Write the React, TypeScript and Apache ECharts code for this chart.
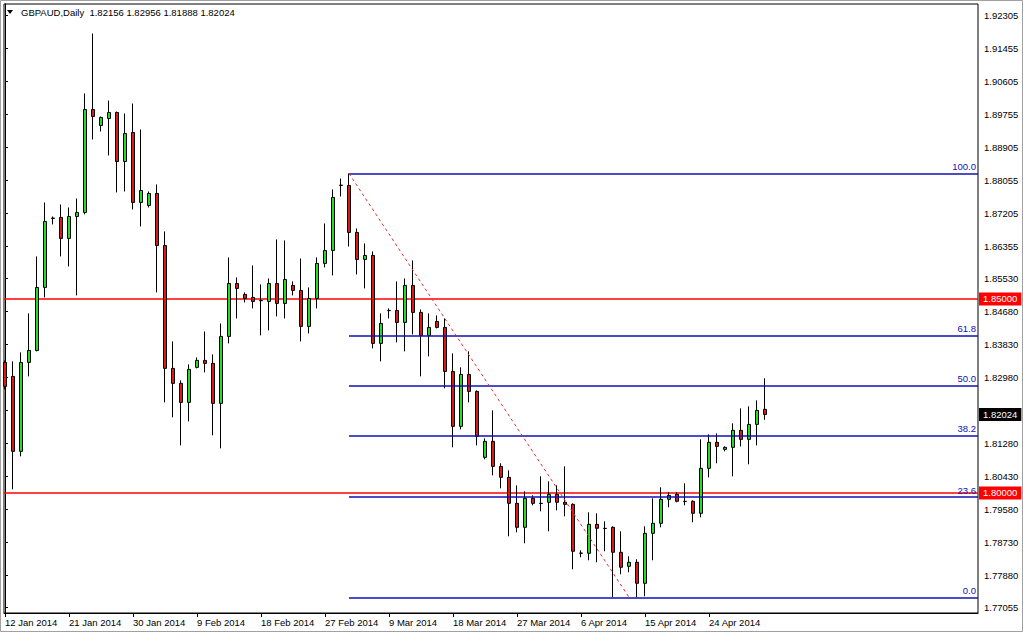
import React, { useEffect, useRef } from "react";
import * as echarts from "echarts";

const dates = [
  "12 Jan 2014","13 Jan 2014","14 Jan 2014","15 Jan 2014","16 Jan 2014","17 Jan 2014","19 Jan 2014","20 Jan 2014",
  "21 Jan 2014","22 Jan 2014","23 Jan 2014","24 Jan 2014","26 Jan 2014","27 Jan 2014","28 Jan 2014","29 Jan 2014",
  "30 Jan 2014","31 Jan 2014","2 Feb 2014","3 Feb 2014","4 Feb 2014","5 Feb 2014","6 Feb 2014","7 Feb 2014",
  "9 Feb 2014","10 Feb 2014","11 Feb 2014","12 Feb 2014","13 Feb 2014","14 Feb 2014","16 Feb 2014","17 Feb 2014",
  "18 Feb 2014","19 Feb 2014","20 Feb 2014","21 Feb 2014","23 Feb 2014","24 Feb 2014","25 Feb 2014","26 Feb 2014",
  "27 Feb 2014","28 Feb 2014","2 Mar 2014","3 Mar 2014","4 Mar 2014","5 Mar 2014","6 Mar 2014","7 Mar 2014",
  "9 Mar 2014","10 Mar 2014","11 Mar 2014","12 Mar 2014","13 Mar 2014","14 Mar 2014","16 Mar 2014","17 Mar 2014",
  "18 Mar 2014","19 Mar 2014","20 Mar 2014","21 Mar 2014","23 Mar 2014","24 Mar 2014","25 Mar 2014","26 Mar 2014",
  "27 Mar 2014","28 Mar 2014","30 Mar 2014","31 Mar 2014","1 Apr 2014","2 Apr 2014","3 Apr 2014","4 Apr 2014",
  "6 Apr 2014","7 Apr 2014","8 Apr 2014","9 Apr 2014","10 Apr 2014","11 Apr 2014","13 Apr 2014","14 Apr 2014",
  "15 Apr 2014","16 Apr 2014","17 Apr 2014","18 Apr 2014","20 Apr 2014","21 Apr 2014","22 Apr 2014","23 Apr 2014",
  "24 Apr 2014","25 Apr 2014","27 Apr 2014","28 Apr 2014","29 Apr 2014","30 Apr 2014","1 May 2014","2 May 2014",
];

const opens = [
  1.83366,1.83006,1.81074,1.83366,1.83675,1.85298,1.87085,1.87102,1.86561,1.87127,
  1.87230,1.89884,1.89471,1.89652,1.89806,1.88544,1.89291,1.87488,1.87411,1.87720,
  1.86380,1.83212,1.82825,1.82336,1.83238,1.83418,1.83341,1.82310,1.84036,1.85401,
  1.85118,1.85041,1.84963,1.84938,1.85401,1.84886,1.85350,1.85221,1.84294,1.85015,
  1.85917,1.86251,1.87926,1.87926,1.86715,1.86020,1.86123,1.83856,1.84706,1.84706,
  1.84397,1.85350,1.84654,1.84062,1.84422,1.84268,1.83134,1.81718,1.83057,1.82619,
  1.80919,1.81331,1.80687,1.80404,1.79734,1.79116,1.79863,1.79734,1.79760,1.79966,
  1.79760,1.79708,1.78446,1.78446,1.79193,1.79090,1.79116,1.78472,1.78111,1.78214,
  1.77673,1.78961,1.79219,1.79837,1.79966,1.79786,1.79786,1.79477,1.80636,1.81306,
  1.81125,1.81177,1.81615,1.81383,1.81769,1.82156,
];
const closes = [
  1.82748,1.81074,1.83366,1.83675,1.85298,1.86998,1.87076,1.86561,1.87127,1.87230,
  1.89884,1.89703,1.89678,1.89806,1.88544,1.89265,1.87488,1.87797,1.87720,1.86380,
  1.83212,1.82825,1.82336,1.83186,1.83418,1.83341,1.82310,1.84036,1.85401,1.85273,
  1.85015,1.84938,1.84955,1.85401,1.84886,1.85504,1.85221,1.84294,1.85015,1.85917,
  1.86251,1.87617,1.87935,1.86715,1.86020,1.86123,1.83856,1.84371,1.84700,1.84397,
  1.85350,1.84654,1.84062,1.84268,1.84268,1.83134,1.81718,1.83057,1.82619,1.81460,
  1.81331,1.80687,1.80404,1.79734,1.79116,1.79863,1.79734,1.79728,1.79966,1.79760,
  1.79708,1.78498,1.78452,1.79193,1.79090,1.79085,1.78472,1.78086,1.78214,1.77673,
  1.78961,1.79219,1.79837,1.79940,1.79786,1.79780,1.79477,1.80636,1.81306,1.81202,
  1.81177,1.81615,1.81383,1.81769,1.82130,1.82024,
];
const lows = [
  1.82671,1.80095,1.80945,1.83006,1.83650,1.85041,1.86921,1.86097,1.85839,1.85092,
  1.87179,1.89111,1.89317,1.88699,1.87746,1.87771,1.87308,1.86870,1.87359,1.85170,
  1.82336,1.81950,1.81228,1.81846,1.83212,1.83109,1.81486,1.81151,1.83856,1.84500,
  1.84912,1.84757,1.84062,1.84191,1.84551,1.84500,1.85092,1.83907,1.84113,1.84757,
  1.85814,1.85607,1.87642,1.86354,1.85633,1.85273,1.83727,1.83392,1.84500,1.83882,
  1.83650,1.84088,1.83006,1.83521,1.84242,1.82697,1.81177,1.81640,1.82336,1.81228,
  1.80868,1.80455,1.80121,1.78884,1.78987,1.78704,1.79683,1.79528,1.79013,1.79554,
  1.79399,1.78034,1.78343,1.78266,1.78214,1.78498,1.77313,1.77905,1.77957,1.77313,
  1.77338,1.78266,1.79116,1.79631,1.79760,1.79683,1.79245,1.79373,1.80404,1.80765,
  1.81074,1.80430,1.81202,1.80739,1.81228,1.81888,
];
const highs = [
  1.83418,1.83392,1.83624,1.84629,1.86097,1.87488,1.87127,1.87436,1.87359,1.87591,
  1.90296,1.91841,1.89703,1.90115,1.89832,1.89781,1.90038,1.89368,1.87771,1.87952,
  1.86741,1.83907,1.82903,1.83315,1.83495,1.84165,1.83572,1.84371,1.86071,1.85556,
  1.85170,1.85865,1.85376,1.85530,1.86535,1.86509,1.85453,1.86045,1.85298,1.86071,
  1.86947,1.87823,1.88106,1.88235,1.86818,1.86432,1.86226,1.84629,1.84757,1.85453,
  1.85530,1.85994,1.84732,1.84629,1.84577,1.84500,1.83598,1.83238,1.83650,1.82645,
  1.81409,1.82130,1.80765,1.80584,1.80198,1.80043,1.79940,1.80430,1.80301,1.80198,
  1.80687,1.79734,1.78523,1.79502,1.79477,1.79270,1.79142,1.79013,1.78369,1.78292,
  1.79142,1.79863,1.80146,1.80018,1.80018,1.80249,1.79811,1.81383,1.81512,1.81537,
  1.81202,1.81795,1.82181,1.82233,1.82387,1.82956,
];

const yTickValues = [
  1.92305,1.91455,1.90605,1.89755,1.88905,1.88055,1.87205,1.86355,1.85530,1.84680,
  1.83830,1.82980,1.82130,1.81280,1.80430,1.79580,1.78730,1.77880,1.77055,
];
// 1.82130 is hidden behind the current-price box in the reference
const yLabelValues = yTickValues.filter((v) => v !== 1.8213);
const xTickIndexes = [0, 8, 16, 24, 32, 40, 48, 56, 64, 72, 80, 88];

const horizontalLevels = [1.85, 1.8];
const currentPrice = 1.82024;

const fibLevels = [100, 61.8, 50, 38.2, 23.6, 0];
const fibHighIndex = 43;
const fibHigh = 1.88235;
const fibLowIndex = 78;
const fibLow = 1.77313;

const headerText = "GBPAUD,Daily  1.82156 1.82956 1.81888 1.82024";

const FONT = "Liberation Sans, Arial, sans-serif";
const UP = "#22dd22";
const DOWN = "#dd1818";
const FIB = "#1010b0";
const HLINE = "#ff0000";

export default function App() {
  const ref = useRef<HTMLDivElement>(null);

  useEffect(() => {
    if (!ref.current) return;
    const chart = echarts.init(ref.current, null, { renderer: "svg" });

    const candleData = opens.map((o, i) => [i, o, closes[i], lows[i], highs[i]]);
    const xMin = -0.125;
    const xMax = 121.625;

    const endBox = (text: string, bg: string) => ({
      show: true,
      distance: 1,
      formatter: text,
      color: "#fff",
      backgroundColor: bg,
      padding: [2, 4, 1, 4],
      fontFamily: FONT,
      fontSize: 9.5,
    });

    const levelSeries = horizontalLevels.map((lv) => ({
      type: "line",
      data: [[xMin, lv], [xMax, lv]],
      showSymbol: false,
      symbol: "none",
      silent: true,
      clip: false,
      z: 3,
      lineStyle: { color: HLINE, width: 1.5, type: "solid" },
      itemStyle: { color: HLINE },
      endLabel: endBox(lv.toFixed(5), "#ff0000"),
    }));

    const priceSeries = {
      type: "line",
      data: [[xMin, currentPrice], [xMax, currentPrice]],
      showSymbol: false,
      symbol: "none",
      silent: true,
      clip: false,
      z: 3,
      lineStyle: { color: "#000", width: 0 },
      itemStyle: { color: "#000" },
      endLabel: endBox(currentPrice.toFixed(5), "#000"),
    };

    const fibLines = fibLevels.map((lv) => {
      const price = fibLow + ((fibHigh - fibLow) * lv) / 100;
      return [
        {
          coord: [fibHighIndex, price],
          lineStyle: { color: FIB, width: 1.5, type: "solid" },
          label: {
            show: true,
            position: "insideEndTop",
            formatter: lv.toFixed(1),
            color: FIB,
            fontFamily: FONT,
            fontSize: 9.5,
            distance: 2,
          },
        },
        { coord: [xMax, price] },
      ];
    });

    const trendLine = [
      {
        coord: [fibHighIndex, fibHigh],
        lineStyle: { color: "#e03030", width: 1, type: [3, 3] },
        label: { show: false },
      },
      { coord: [fibLowIndex, fibLow] },
    ];

    const option: any = {
      animation: false,
      backgroundColor: "#ffffff",
      grid: {
        left: 4,
        top: 4,
        right: 45,
        bottom: 20,
        show: true,
        borderColor: "#000",
        borderWidth: 1,
        backgroundColor: "#fff",
      },
      xAxis: {
        type: "value",
        min: xMin,
        max: xMax,
        splitLine: { show: false },
        axisLine: { show: true, lineStyle: { color: "#000", width: 1 } },
        axisTick: {
          show: true,
          length: 4,
          inside: false,
          customValues: xTickIndexes,
          lineStyle: { color: "#000" },
        },
        axisLabel: {
          show: true,
          customValues: xTickIndexes,
          formatter: (v: number) => dates[Math.round(v)] ?? "",
          align: "left",
          color: "#000",
          fontFamily: FONT,
          fontSize: 9.5,
          margin: 4,
        },
      },
      yAxis: {
        type: "value",
        position: "right",
        min: 1.769072,
        max: 1.926031,
        scale: true,
        splitLine: { show: false },
        axisLine: { show: true, lineStyle: { color: "#000", width: 1 } },
        axisTick: {
          show: true,
          length: 3,
          customValues: yTickValues,
          lineStyle: { color: "#000" },
        },
        axisLabel: {
          show: true,
          customValues: yLabelValues,
          formatter: (v: number) => v.toFixed(5),
          color: "#000",
          fontFamily: FONT,
          fontSize: 9.5,
          margin: 6,
        },
      },
      series: [
        ...levelSeries,
        priceSeries,
        {
          type: "candlestick",
          data: candleData,
          encode: { x: 0, y: [1, 2, 3, 4] },
          barWidth: 4,
          clip: true,
          z: 4,
          itemStyle: {
            color: UP,
            color0: DOWN,
            borderColor: "#000",
            borderColor0: "#000",
            borderColorDoji: "#000",
            borderWidth: 1,
          },
          markLine: {
            silent: true,
            symbol: ["none", "none"],
            animation: false,
            data: [...fibLines, trendLine],
          },
        },
      ],
      graphic: [
        {
          type: "rect",
          shape: { x: 0.5, y: 0.5, width: 1022, height: 631 },
          style: { fill: "none", stroke: "#a0a0a0", lineWidth: 1 },
          silent: true,
        },
        {
          type: "polygon",
          shape: { points: [[7, 10], [13, 10], [10, 14]] },
          style: { fill: "#000" },
          silent: true,
        },
        {
          type: "text",
          x: 21,
          y: 7,
          style: {
            text: headerText,
            fill: "#000",
            font: `9.5px ${FONT}`,
          },
          silent: true,
        },
      ],
    };

    chart.setOption(option);
    return () => chart.dispose();
  }, []);

  return (
    <div
      ref={ref}
      style={{ position: "absolute", left: 0, top: 0, width: 1023, height: 633, background: "#fff" }}
    />
  );
}
